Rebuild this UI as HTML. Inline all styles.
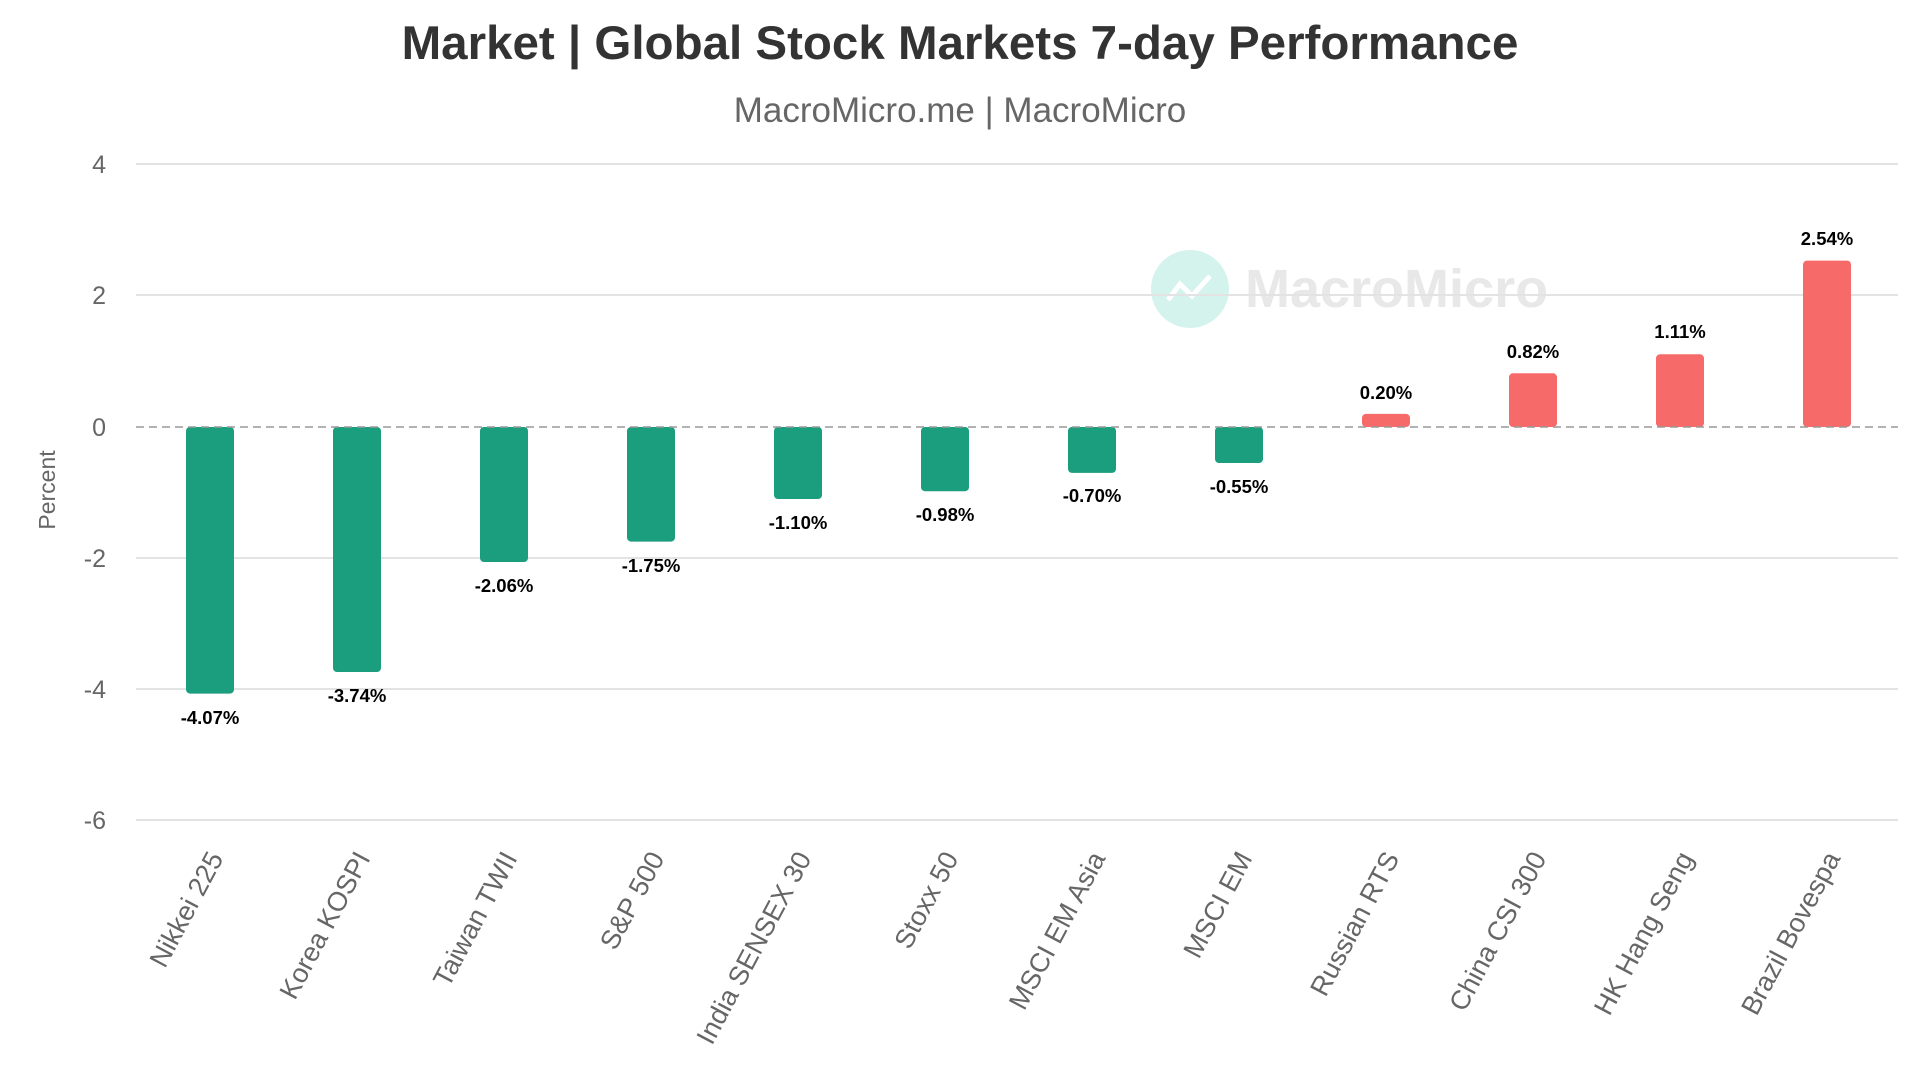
<!DOCTYPE html>
<html><head><meta charset="utf-8"><style>
html,body{margin:0;padding:0;background:#fff;}
svg{display:block;font-family:"Liberation Sans",sans-serif;}
</style></head><body>
<svg width="1920" height="1080" viewBox="0 0 1920 1080" xmlns="http://www.w3.org/2000/svg">
<text x="960" y="59" text-anchor="middle" font-size="47.5" font-weight="bold" fill="#333">Market | Global Stock Markets 7-day Performance</text>
<text x="960" y="122" text-anchor="middle" font-size="35" fill="#666">MacroMicro.me | MacroMicro</text>
<circle cx="1190" cy="289" r="39" fill="#d3f3ec"/>
<polyline points="1168,300 1180,284 1192,296 1210,276" fill="none" stroke="#fff" stroke-width="5"/>
<text x="1245" y="307" font-size="54" font-weight="bold" fill="#e8e8e8">MacroMicro</text>
<g stroke="#e3e3e3" stroke-width="2">
<line x1="136" x2="1898" y1="164" y2="164"/>
<line x1="136" x2="1898" y1="295" y2="295"/>
<line x1="136" x2="1898" y1="558" y2="558"/>
<line x1="136" x2="1898" y1="689" y2="689"/>
<line x1="136" x2="1898" y1="820" y2="820"/>
</g>
<g font-size="25" fill="#666" text-anchor="end">
<text x="106" y="173">4</text>
<text x="106" y="304">2</text>
<text x="106" y="436">0</text>
<text x="106" y="567">-2</text>
<text x="106" y="698">-4</text>
<text x="106" y="829">-6</text>
</g>
<text transform="translate(55,490) rotate(-90)" text-anchor="middle" font-size="23" fill="#666">Percent</text>
<g fill="#1a9e7e">
<rect x="186" y="427" width="48" height="266.6" rx="4"/>
<rect x="333" y="427" width="48" height="245" rx="4"/>
<rect x="480" y="427" width="48" height="135" rx="4"/>
<rect x="627" y="427" width="48" height="114.6" rx="4"/>
<rect x="774" y="427" width="48" height="72" rx="4"/>
<rect x="921" y="427" width="48" height="64.2" rx="4"/>
<rect x="1068" y="427" width="48" height="45.9" rx="4"/>
<rect x="1215" y="427" width="48" height="36" rx="4"/>
</g>
<g fill="#f76a6a">
<rect x="1362" y="413.9" width="48" height="13.1" rx="4"/>
<rect x="1509" y="373.3" width="48" height="53.7" rx="4"/>
<rect x="1656" y="354.3" width="48" height="72.7" rx="4"/>
<rect x="1803" y="260.6" width="48" height="166.4" rx="4"/>
</g>
<line x1="136" x2="1898" y1="427" y2="427" stroke="#999" stroke-width="1.5" stroke-dasharray="8,5"/>
<g font-size="18.5" font-weight="bold" fill="#000" text-anchor="middle">
<text x="210" y="724">-4.07%</text>
<text x="357" y="702">-3.74%</text>
<text x="504" y="592">-2.06%</text>
<text x="651" y="572">-1.75%</text>
<text x="798" y="529">-1.10%</text>
<text x="945" y="521">-0.98%</text>
<text x="1092" y="502">-0.70%</text>
<text x="1239" y="493">-0.55%</text>
<text x="1386" y="399">0.20%</text>
<text x="1533" y="358">0.82%</text>
<text x="1680" y="338">1.11%</text>
<text x="1827" y="245">2.54%</text>
</g>
<g font-size="27" fill="#666" text-anchor="end">
<text transform="translate(224,858) rotate(-62)">Nikkei 225</text>
<text transform="translate(371,858) rotate(-62)">Korea KOSPI</text>
<text transform="translate(518,858) rotate(-62)">Taiwan TWII</text>
<text transform="translate(665,858) rotate(-62)">S&amp;P 500</text>
<text transform="translate(812,858) rotate(-62)">India SENSEX 30</text>
<text transform="translate(959,858) rotate(-62)">Stoxx 50</text>
<text transform="translate(1106,858) rotate(-62)">MSCI EM Asia</text>
<text transform="translate(1253,858) rotate(-62)">MSCI EM</text>
<text transform="translate(1400,858) rotate(-62)">Russian RTS</text>
<text transform="translate(1547,858) rotate(-62)">China CSI 300</text>
<text transform="translate(1694,858) rotate(-62)">HK Hang Seng</text>
<text transform="translate(1841,858) rotate(-62)">Brazil Bovespa</text>
</g>
</svg>
</body></html>
